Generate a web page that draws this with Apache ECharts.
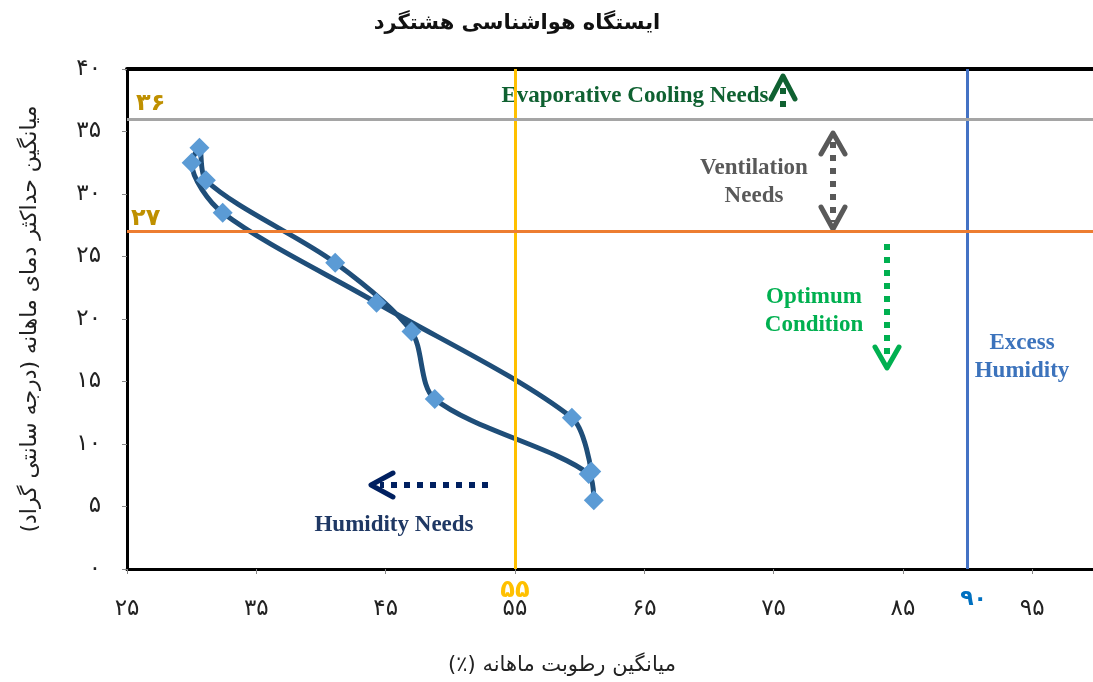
<!DOCTYPE html>
<html>
<head>
<meta charset="UTF-8" />
<title>ایستگاه هواشناسی هشتگرد</title>
<script src="https://cdn.jsdelivr.net/npm/echarts@6/dist/echarts.min.js"></script>
<style>
html,body{margin:0;padding:0;background:#fff;}
#main{width:1093px;height:682px;}
</style>
</head>
<body>
<div id="main"></div>
<script>
// میانگین ماهانه - ژانویه تا دسامبر
var months   = ['Jan','Feb','Mar','Apr','May','Jun','Jul','Aug','Sep','Oct','Nov','Dec'];
var humidity = [61.1, 60.7, 48.8, 47.0, 41.1, 31.1, 30.6, 30.0, 32.4, 44.3, 59.4, 60.9];
var tmax     = [5.5, 7.6, 13.6, 19.0, 24.5, 31.1, 33.7, 32.5, 28.5, 21.3, 12.1, 7.8];

var xTicks = [25, 35, 45, 55, 65, 75, 85, 95];
var yTicks = [0, 5, 10, 15, 20, 25, 30, 35, 40];

var humidityLimits = [55, 90];
var tempLimits = [27, 36];

function fa(n) {
  return String(n).replace(/\d/g, function (d) { return '۰۱۲۳۴۵۶۷۸۹'[d]; });
}
var RLM = '\u200F';

var points = humidity.map(function (h, i) { return [h, tmax[i]]; });

var faFont = '"DejaVu Sans", sans-serif';
var enFont = '"Liberation Serif", "Times New Roman", serif';

var myChart = echarts.init(document.getElementById('main'));

function arrowHead(pts, color) {
  return { type: 'polyline', shape: { points: pts },
    style: { stroke: color, fill: null, lineWidth: 5, lineCap: 'round', lineJoin: 'round' } };
}
function dots(x1, y1, x2, y2, color) {
  return { type: 'line', shape: { x1: x1, y1: y1, x2: x2, y2: y2 },
    style: { stroke: color, lineWidth: 6, lineDash: [6, 7] } };
}
function note(x, y, text, color) {
  return { type: 'text', x: x, y: y, style: { text: text, align: 'center', verticalAlign: 'top',
    lineHeight: 28, font: 'bold 23px ' + enFont, fill: color } };
}

myChart.setOption({
  animation: false,
  grid: { left: 127, top: 69, right: 0, bottom: 113 },
  xAxis: [{
    type: 'value',
    min: 25, max: 99.7, interval: 10,
    splitLine: { show: false },
    axisLine: { lineStyle: { color: '#000', width: 3 } },
    axisTick: { length: 5, lineStyle: { color: '#888' } },
    axisLabel: {
      margin: 29, fontSize: 23, color: '#222', fontFamily: faFont, showMaxLabel: false,
      formatter: function (v) { return xTicks.indexOf(v) >= 0 ? fa(v) : ''; }
    }
  }, {
    type: 'value', position: 'top',
    min: 25, max: 99.7,
    splitLine: { show: false },
    axisTick: { show: false }, axisLabel: { show: false },
    axisLine: { lineStyle: { color: '#000', width: 4 } }
  }],
  yAxis: {
    type: 'value',
    min: 0, max: 40, interval: 5,
    splitLine: { show: false },
    axisLine: { lineStyle: { color: '#000', width: 3 } },
    axisTick: { length: 5, lineStyle: { color: '#888' } },
    axisLabel: {
      margin: 26, fontSize: 23, color: '#222', fontFamily: faFont,
      formatter: function (v) { return yTicks.indexOf(v) >= 0 ? fa(v) : ''; }
    },
    name: RLM + 'میانگین حداکثر دمای ماهانه (درجه سانتی گراد)' + RLM,
    nameLocation: 'middle',
    nameRotate: 90,
    nameGap: 86,
    nameTextStyle: { fontSize: 22, color: '#222', fontFamily: faFont }
  },
  series: [{
    name: 'limits',
    type: 'line',
    data: [],
    z: 4,
    silent: true,
    markLine: {
      silent: true,
      symbol: ['none', 'none'],
      animation: false,
      data: [
        { xAxis: humidityLimits[0], lineStyle: { color: '#FFC000', width: 3, type: 'solid' },
          label: { show: true, position: 'start', distance: 10, formatter: fa(humidityLimits[0]),
                   color: '#FFC000', fontSize: 24, fontWeight: 'bold', fontFamily: faFont } },
        { xAxis: humidityLimits[1], lineStyle: { color: '#4472C4', width: 3, type: 'solid' },
          label: { show: true, position: 'start', distance: 19, offset: [6, 0], formatter: fa(humidityLimits[1]),
                   color: '#0070C0', fontSize: 22, fontWeight: 'bold', fontFamily: faFont } },
        { yAxis: tempLimits[1], lineStyle: { color: '#A5A5A5', width: 3, type: 'solid' },
          label: { show: true, position: 'insideStartTop', distance: 3, offset: [6, 0], formatter: fa(tempLimits[1]),
                   color: '#BF9000', fontSize: 24, fontWeight: 'bold', fontFamily: faFont } },
        { yAxis: tempLimits[0], lineStyle: { color: '#ED7D31', width: 3, type: 'solid' },
          label: { show: true, position: 'insideStartTop', distance: 1, offset: [3, 0], formatter: fa(tempLimits[0]),
                   color: '#BF9000', fontSize: 24, fontWeight: 'bold', fontFamily: faFont } }
      ]
    }
  }, {
    name: 'monthly',
    type: 'line',
    data: points,
    smooth: 0.3,
    z: 3,
    symbol: 'none',
    lineStyle: { color: '#1F4E79', width: 5 }
  }, {
    name: 'markers',
    type: 'scatter',
    data: points,
    z: 6,
    symbol: 'diamond',
    symbolSize: 20,
    itemStyle: { color: '#5B9BD5', opacity: 1 }
  }],
  graphic: [
    { type: 'text', x: 517, y: 13, style: { text: 'ایستگاه هواشناسی هشتگرد', align: 'center',
      font: 'bold 21px ' + faFont, fill: '#111' } },
    { type: 'text', x: 562, y: 655, style: { text: RLM + 'میانگین رطوبت ماهانه (٪)' + RLM, align: 'center',
      font: '21px ' + faFont, fill: '#222' } },

    // Evaporative cooling needs
    note(635, 82, 'Evaporative Cooling Needs', '#0F6131'),
    dots(783, 88, 783, 112, '#0F6131'),
    arrowHead([[771, 99], [783, 76], [795, 99]], '#0F6131'),

    // Ventilation needs
    note(754, 154, 'Ventilation\nNeeds', '#595959'),
    dots(833, 142, 833, 222, '#595959'),
    arrowHead([[821, 154], [833, 133], [845, 154]], '#595959'),
    arrowHead([[821, 207], [833, 229], [845, 207]], '#595959'),

    // Optimum condition
    note(814, 283, 'Optimum\nCondition', '#00B050'),
    dots(887, 244, 887, 358, '#00B050'),
    arrowHead([[875, 347], [887, 368], [899, 347]], '#00B050'),

    // Excess humidity
    note(1022, 329, 'Excess\nHumidity', '#3C73BC'),

    // Humidity needs
    dots(488, 485, 380, 485, '#002060'),
    arrowHead([[393, 473], [371, 485], [393, 497]], '#002060'),
    note(394, 511, 'Humidity Needs', '#1F3864')
  ]
});
</script>
</body>
</html>
